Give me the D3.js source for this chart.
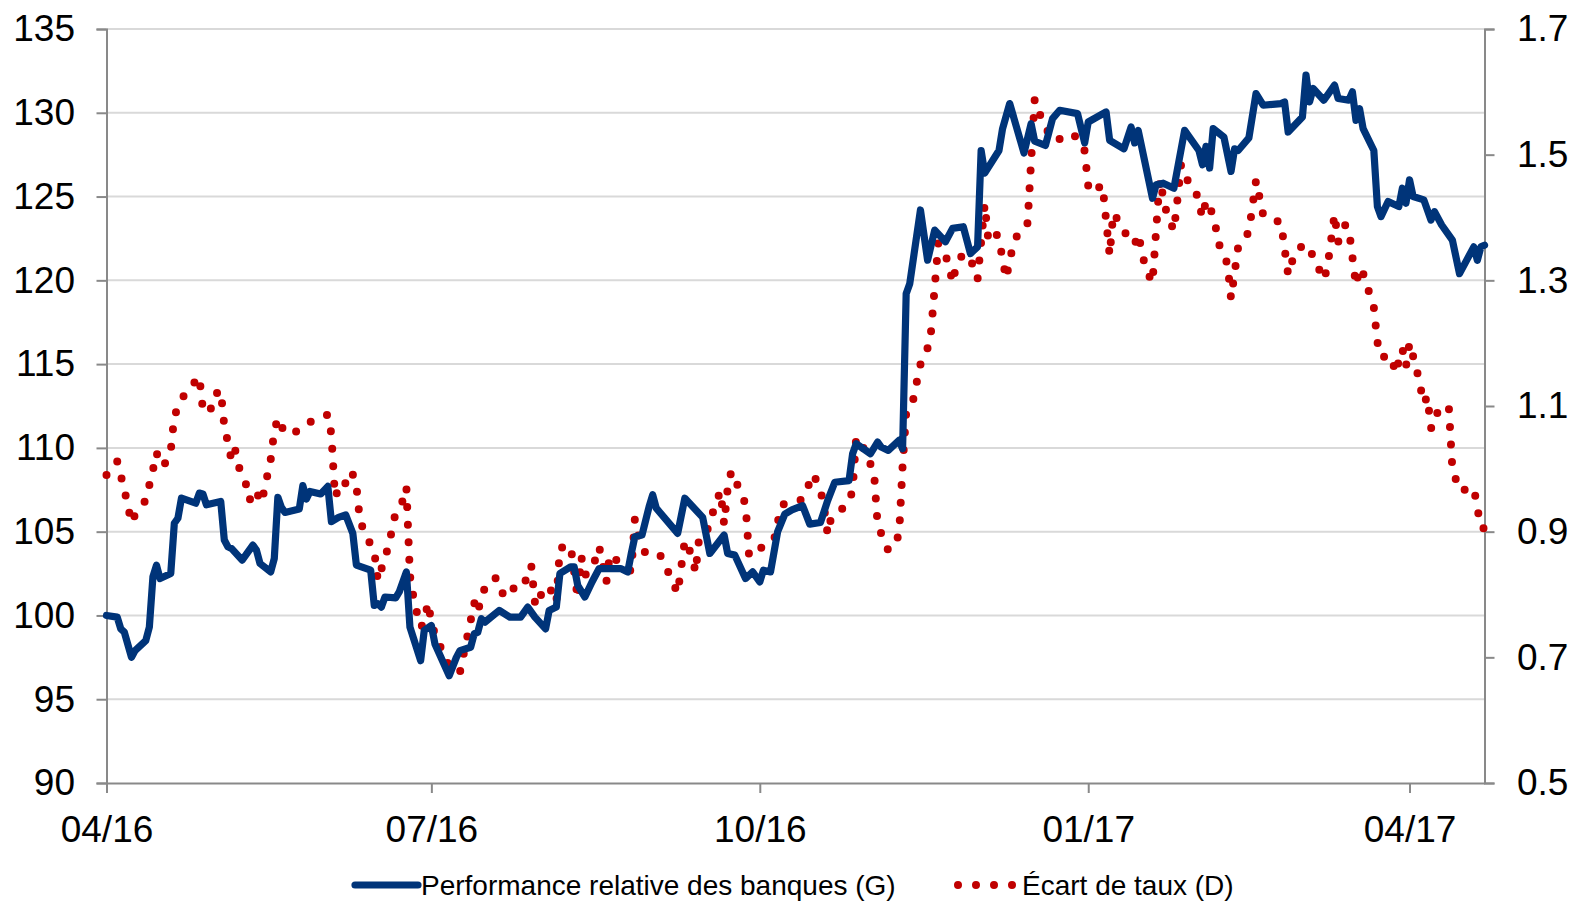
<!DOCTYPE html>
<html lang="fr">
<head>
<meta charset="UTF-8">
<title>Performance relative des banques et écart de taux</title>
<style>
  body { margin: 0; background: #fff; }
  svg { display: block; font-family: "Liberation Sans", Arial, sans-serif; }
</style>
</head>
<body>
<div id="chart"></div>
<script src="https://cdn.jsdelivr.net/npm/d3@7"></script>
<script>
// Performance relative des banques (axe gauche)
const bankSeries = [
  ["2016-04-01",100.0],["2016-04-04",99.9],["2016-04-05",99.2],["2016-04-06",99.0],["2016-04-08",97.5],["2016-04-09",97.9],
  ["2016-04-12",98.5],["2016-04-13",99.3],["2016-04-14",102.3],["2016-04-15",103.0],["2016-04-16",102.2],["2016-04-19",102.5],
  ["2016-04-20",105.5],["2016-04-21",105.8],["2016-04-22",107.0],["2016-04-26",106.7],["2016-04-27",107.3],["2016-04-28",107.25],
  ["2016-04-29",106.6],
  ["2016-05-03",106.8],["2016-05-04",104.5],["2016-05-05",104.1],["2016-05-06",104.0],["2016-05-09",103.3],["2016-05-12",104.2],
  ["2016-05-13",103.9],["2016-05-14",103.1],["2016-05-17",102.6],["2016-05-18",103.4],["2016-05-19",107.05],["2016-05-20",106.45],
  ["2016-05-21",106.15],["2016-05-25",106.35],["2016-05-26",107.75],["2016-05-27",106.95],["2016-05-28",107.4],["2016-05-31",107.25],
  ["2016-06-02",107.7],["2016-06-03",105.6],["2016-06-05",105.85],["2016-06-07",106.0],["2016-06-09",104.9],["2016-06-10",103.0],
  ["2016-06-14",102.7],["2016-06-15",100.6],["2016-06-16",100.7],["2016-06-17",100.5],["2016-06-18",101.1],["2016-06-21",101.05],
  ["2016-06-22",101.4],["2016-06-24",102.6],["2016-06-25",99.3],["2016-06-28",97.3],["2016-06-29",99.1],
  ["2016-07-01",99.4],["2016-07-02",98.3],["2016-07-06",96.4],["2016-07-08",97.5],["2016-07-09",97.9],["2016-07-12",98.1],
  ["2016-07-13",98.9],["2016-07-14",99.0],["2016-07-15",99.8],["2016-07-16",99.6],["2016-07-20",100.3],["2016-07-23",99.9],
  ["2016-07-26",99.9],["2016-07-28",100.5],["2016-07-30",99.9],
  ["2016-08-02",99.2],["2016-08-03",100.3],["2016-08-05",100.5],["2016-08-06",102.5],["2016-08-09",102.9],["2016-08-10",102.9],
  ["2016-08-11",101.8],["2016-08-13",101.1],["2016-08-15",102.0],["2016-08-17",102.8],["2016-08-20",102.8],["2016-08-23",102.8],
  ["2016-08-25",102.6],["2016-08-26",103.7],["2016-08-27",104.7],["2016-08-29",104.8],["2016-08-31",106.5],
  ["2016-09-01",107.2],["2016-09-02",106.4],["2016-09-08",104.9],["2016-09-10",107.0],["2016-09-15",105.85],["2016-09-17",103.7],
  ["2016-09-21",104.8],["2016-09-22",103.7],["2016-09-24",103.6],["2016-09-27",102.2],["2016-09-29",102.6],
  ["2016-10-01",102.0],["2016-10-02",102.7],["2016-10-04",102.6],["2016-10-06",105.0],["2016-10-08",106.05],["2016-10-10",106.3],
  ["2016-10-13",106.55],["2016-10-15",105.45],["2016-10-18",105.55],["2016-10-20",106.85],["2016-10-22",107.95],["2016-10-26",108.05],
  ["2016-10-27",109.65],["2016-10-28",110.25],
  ["2016-11-01",109.65],["2016-11-03",110.35],["2016-11-04",110.05],["2016-11-06",109.85],["2016-11-09",110.45],["2016-11-10",109.95],
  ["2016-11-11",119.2],["2016-11-12",119.8],["2016-11-15",124.2],["2016-11-17",121.2],["2016-11-19",123.0],["2016-11-22",122.3],
  ["2016-11-24",123.1],["2016-11-27",123.2],["2016-11-29",121.6],
  ["2016-12-01",122.0],["2016-12-02",127.75],["2016-12-03",126.4],["2016-12-07",127.75],["2016-12-08",129.05],["2016-12-10",130.55],
  ["2016-12-14",127.6],["2016-12-16",129.35],["2016-12-17",128.3],["2016-12-20",128.05],["2016-12-22",129.65],["2016-12-24",130.15],
  ["2016-12-29",129.95],["2016-12-31",128.2],
  ["2017-01-01",129.45],["2017-01-06",130.05],["2017-01-07",128.35],["2017-01-11",127.85],["2017-01-13",129.15],["2017-01-14",128.2],
  ["2017-01-15",128.95],["2017-01-19",124.9],["2017-01-20",125.7],["2017-01-22",125.8],["2017-01-25",125.5],["2017-01-28",128.95],
  ["2017-02-01",127.75],["2017-02-02",126.9],["2017-02-03",128.0],["2017-02-04",126.7],["2017-02-05",129.05],["2017-02-08",128.55],
  ["2017-02-10",126.5],["2017-02-11",127.85],["2017-02-12",127.75],["2017-02-15",128.5],["2017-02-17",131.15],["2017-02-19",130.45],
  ["2017-02-24",130.55],["2017-02-25",130.65],["2017-02-26",128.85],
  ["2017-03-02",129.75],["2017-03-03",132.25],["2017-03-04",130.65],["2017-03-05",131.45],["2017-03-08",130.75],["2017-03-11",131.65],
  ["2017-03-12",130.85],["2017-03-15",130.75],["2017-03-16",131.25],["2017-03-17",129.55],["2017-03-18",130.25],["2017-03-19",129.05],
  ["2017-03-22",127.75],["2017-03-23",124.4],["2017-03-24",123.8],["2017-03-26",124.7],["2017-03-29",124.4],["2017-03-30",125.5],
  ["2017-03-31",124.6],
  ["2017-04-01",126.0],["2017-04-02",125.0],["2017-04-05",124.8],["2017-04-07",123.6],["2017-04-08",124.1],["2017-04-10",123.3],
  ["2017-04-13",122.4],["2017-04-15",120.4],["2017-04-19",122.0],["2017-04-20",121.2],["2017-04-21",122.0],["2017-04-22",122.1]
];

// Ecart de taux (axe droit)
const spreadSeries = [
  ["2016-04-01",0.990],["2016-04-04",1.012],["2016-04-06",0.967],["2016-04-08",0.914],["2016-04-09",0.927],["2016-04-12",0.950],
  ["2016-04-14",0.998],["2016-04-15",1.026],["2016-04-16",1.009],["2016-04-17",1.004],["2016-04-19",1.029],["2016-04-20",1.084],
  ["2016-04-22",1.111],["2016-04-24",1.126],["2016-04-27",1.147],["2016-04-28",1.094],["2016-04-30",1.090],
  ["2016-05-01",1.117],["2016-05-03",1.125],["2016-05-04",1.068],["2016-05-05",1.042],["2016-05-06",1.014],["2016-05-07",1.031],
  ["2016-05-08",1.004],["2016-05-10",0.977],["2016-05-11",0.950],["2016-05-13",0.967],["2016-05-14",0.946],["2016-05-15",0.961],
  ["2016-05-16",0.988],["2016-05-17",1.015],["2016-05-18",1.060],["2016-05-19",1.081],["2016-05-21",1.056],["2016-05-24",1.059],
  ["2016-05-26",1.067],["2016-05-29",1.078],
  ["2016-06-02",1.086],["2016-06-03",1.055],["2016-06-04",0.955],["2016-06-06",0.981],["2016-06-08",0.972],["2016-06-09",0.991],
  ["2016-06-10",0.973],["2016-06-11",0.917],["2016-06-13",0.890],["2016-06-15",0.869],["2016-06-16",0.822],["2016-06-19",0.877],
  ["2016-06-21",0.931],["2016-06-23",0.949],["2016-06-24",0.971],["2016-06-25",0.830],["2016-06-26",0.795],["2016-06-27",0.770],
  ["2016-06-28",0.748],["2016-06-29",0.755],["2016-06-30",0.787],
  ["2016-07-01",0.758],["2016-07-02",0.736],["2016-07-04",0.711],["2016-07-06",0.685],["2016-07-09",0.676],["2016-07-10",0.704],
  ["2016-07-12",0.758],["2016-07-13",0.787],["2016-07-14",0.770],["2016-07-15",0.798],["2016-07-17",0.822],["2016-07-19",0.826],
  ["2016-07-20",0.805],["2016-07-23",0.796],["2016-07-25",0.823],["2016-07-28",0.822],["2016-07-29",0.845],["2016-07-30",0.788],
  ["2016-07-31",0.781],
  ["2016-08-01",0.807],["2016-08-03",0.813],["2016-08-05",0.787],["2016-08-06",0.874],["2016-08-09",0.878],["2016-08-11",0.794],
  ["2016-08-12",0.860],["2016-08-13",0.831],["2016-08-15",0.839],["2016-08-17",0.876],["2016-08-19",0.819],["2016-08-20",0.864],
  ["2016-08-24",0.844],["2016-08-26",0.837],["2016-08-27",0.920],["2016-08-28",0.893],["2016-08-30",0.865],
  ["2016-09-03",0.863],["2016-09-04",0.854],["2016-09-06",0.827],["2016-09-08",0.802],["2016-09-10",0.886],["2016-09-12",0.862],
  ["2016-09-13",0.835],["2016-09-14",0.890],["2016-09-16",0.897],["2016-09-19",0.951],["2016-09-20",0.964],["2016-09-21",0.912],
  ["2016-09-22",0.969],["2016-09-23",0.996],["2016-09-25",0.971],["2016-09-27",0.944],["2016-09-28",0.861],
  ["2016-10-01",0.873],["2016-10-05",0.887],["2016-10-07",0.941],["2016-10-08",0.945],["2016-10-11",0.947],["2016-10-13",0.952],
  ["2016-10-16",0.992],["2016-10-18",0.966],["2016-10-19",0.939],["2016-10-20",0.896],["2016-10-21",0.923],["2016-10-24",0.936],
  ["2016-10-26",0.947],["2016-10-27",0.967],["2016-10-28",1.050],["2016-10-29",1.046],["2016-10-31",1.021],
  ["2016-11-02",0.994],["2016-11-03",0.911],["2016-11-06",0.870],["2016-11-09",0.894],["2016-11-10",1.005],["2016-11-11",1.089],
  ["2016-11-13",1.111],["2016-11-14",1.139],["2016-11-15",1.166],["2016-11-17",1.192],["2016-11-18",1.220],["2016-11-20",1.359],
  ["2016-11-22",1.340],["2016-11-23",1.323],["2016-11-24",1.296],["2016-11-25",1.323],["2016-11-27",1.343],["2016-11-30",1.323],
  ["2016-12-01",1.302],["2016-12-03",1.421],["2016-12-04",1.365],["2016-12-06",1.377],["2016-12-07",1.365],["2016-12-09",1.303],
  ["2016-12-11",1.358],["2016-12-13",1.382],["2016-12-15",1.391],["2016-12-17",1.588],["2016-12-18",1.570],["2016-12-20",1.544],
  ["2016-12-22",1.523],["2016-12-24",1.525],["2016-12-27",1.534],["2016-12-29",1.527],["2016-12-31",1.506],
  ["2017-01-01",1.450],["2017-01-02",1.439],["2017-01-05",1.452],["2017-01-07",1.340],["2017-01-08",1.407],["2017-01-10",1.390],
  ["2017-01-12",1.369],["2017-01-14",1.357],["2017-01-15",1.374],["2017-01-16",1.347],["2017-01-17",1.320],["2017-01-19",1.296],
  ["2017-01-21",1.460],["2017-01-22",1.433],["2017-01-23",1.406],["2017-01-25",1.379],["2017-01-26",1.429],["2017-01-27",1.484],
  ["2017-01-29",1.457],["2017-01-31",1.445],
  ["2017-02-02",1.400],["2017-02-03",1.427],["2017-02-05",1.404],["2017-02-07",1.349],["2017-02-09",1.327],["2017-02-10",1.271],
  ["2017-02-12",1.353],["2017-02-15",1.377],["2017-02-17",1.459],["2017-02-19",1.404],["2017-02-21",1.398],["2017-02-24",1.392],
  ["2017-02-26",1.309],["2017-02-28",1.347],
  ["2017-03-03",1.358],["2017-03-04",1.350],["2017-03-08",1.301],["2017-03-09",1.321],["2017-03-11",1.405],["2017-03-12",1.361],
  ["2017-03-14",1.388],["2017-03-15",1.382],["2017-03-17",1.292],["2017-03-18",1.320],["2017-03-19",1.311],["2017-03-22",1.257],
  ["2017-03-23",1.202],["2017-03-24",1.178],["2017-03-27",1.179],["2017-03-28",1.152],["2017-03-30",1.191],["2017-03-31",1.163],
  ["2017-04-01",1.200],["2017-04-03",1.158],["2017-04-05",1.104],["2017-04-06",1.115],["2017-04-07",1.065],["2017-04-08",1.067],
  ["2017-04-09",1.095],["2017-04-12",1.099],["2017-04-13",1.000],["2017-04-15",0.965],["2017-04-19",0.970],["2017-04-21",0.906],
  ["2017-04-22",0.905]
];

const xTicks = ["2016-04-01", "2016-07-01", "2016-10-01", "2017-01-01", "2017-04-01"];
const leftTicks = [90, 95, 100, 105, 110, 115, 120, 125, 130, 135];
const rightTicks = [0.5, 0.7, 0.9, 1.1, 1.3, 1.5, 1.7];
const legendLabels = ["Performance relative des banques (G)", "Écart de taux (D)"];

const width = 1572, height = 901;
const margin = { top: 29, right: 87.5, bottom: 118, left: 106.5 };
const blue = "#003479", red = "#c00000", axisGrey = "#898989";

const parse = d3.timeParse("%Y-%m-%d");
const bank = bankSeries.map(d => ({ date: parse(d[0]), value: d[1] }));
const spread = spreadSeries.map(d => ({ date: parse(d[0]), value: d[1] }));

const svg = d3.select("#chart").append("svg")
  .attr("width", width)
  .attr("height", height);

const x = d3.scaleTime()
  .domain([parse("2016-04-01"), parse("2017-04-22")])
  .range([margin.left, width - margin.right]);

const yLeft = d3.scaleLinear()
  .domain([90, 135])
  .range([height - margin.bottom, margin.top]);

const yRight = d3.scaleLinear()
  .domain([0.5, 1.7])
  .range([height - margin.bottom, margin.top]);

// gridlines (left axis)
svg.append("g")
  .selectAll("line")
  .data(leftTicks.slice(1))
  .enter().append("line")
  .attr("x1", margin.left)
  .attr("x2", width - margin.right)
  .attr("y1", d => yLeft(d))
  .attr("y2", d => yLeft(d))
  .attr("stroke", "#d9d9d9")
  .attr("stroke-width", 2);

function styleAxis(g) {
  g.select(".domain").attr("stroke", axisGrey).attr("stroke-width", 2);
  g.selectAll(".tick line").attr("stroke", axisGrey).attr("stroke-width", 2);
  g.selectAll(".tick text").attr("fill", "#000").style("font-size", "37px")
    .style("font-family", "'Liberation Sans', Arial, sans-serif");
}

svg.append("g")
  .attr("transform", `translate(${margin.left},0)`)
  .call(d3.axisLeft(yLeft).tickValues(leftTicks).tickSize(10).tickPadding(21.5))
  .call(styleAxis);

svg.append("g")
  .attr("transform", `translate(${width - margin.right},0)`)
  .call(d3.axisRight(yRight).tickValues(rightTicks).tickFormat(d3.format(".1f")).tickSize(10).tickPadding(22.5))
  .call(styleAxis);

svg.append("g")
  .attr("transform", `translate(0,${height - margin.bottom})`)
  .call(d3.axisBottom(x).tickValues(xTicks.map(parse)).tickFormat(d3.timeFormat("%m/%y"))
    .tickSize(10).tickSizeOuter(0).tickPadding(22.7))
  .call(styleAxis);

// series
const lineBank = d3.line()
  .x(d => x(d.date))
  .y(d => yLeft(d.value));

const lineSpread = d3.line()
  .x(d => x(d.date))
  .y(d => yRight(d.value));

svg.append("path")
  .datum(spread)
  .attr("fill", "none")
  .attr("stroke", red)
  .attr("stroke-width", 8)
  .attr("stroke-linecap", "round")
  .attr("stroke-linejoin", "round")
  .attr("stroke-dasharray", "0 17.6")
  .attr("d", lineSpread);

svg.append("path")
  .datum(bank)
  .attr("fill", "none")
  .attr("stroke", blue)
  .attr("stroke-width", 7.2)
  .attr("stroke-linejoin", "round")
  .attr("stroke-linecap", "round")
  .attr("d", lineBank);

// legend
const legend = svg.append("g").attr("font-size", 28);

legend.append("line")
  .attr("x1", 355).attr("x2", 418)
  .attr("y1", 885).attr("y2", 885)
  .attr("stroke", blue)
  .attr("stroke-width", 7.2)
  .attr("stroke-linecap", "round");

legend.append("text")
  .attr("x", 421)
  .attr("y", 895)
  .attr("fill", "#000")
  .text(legendLabels[0]);

legend.append("line")
  .attr("x1", 958).attr("x2", 1013)
  .attr("y1", 885).attr("y2", 885)
  .attr("stroke", red)
  .attr("stroke-width", 8)
  .attr("stroke-linecap", "round")
  .attr("stroke-dasharray", "0 18");

legend.append("text")
  .attr("x", 1022)
  .attr("y", 895)
  .attr("fill", "#000")
  .text(legendLabels[1]);
</script>
</body>
</html>
